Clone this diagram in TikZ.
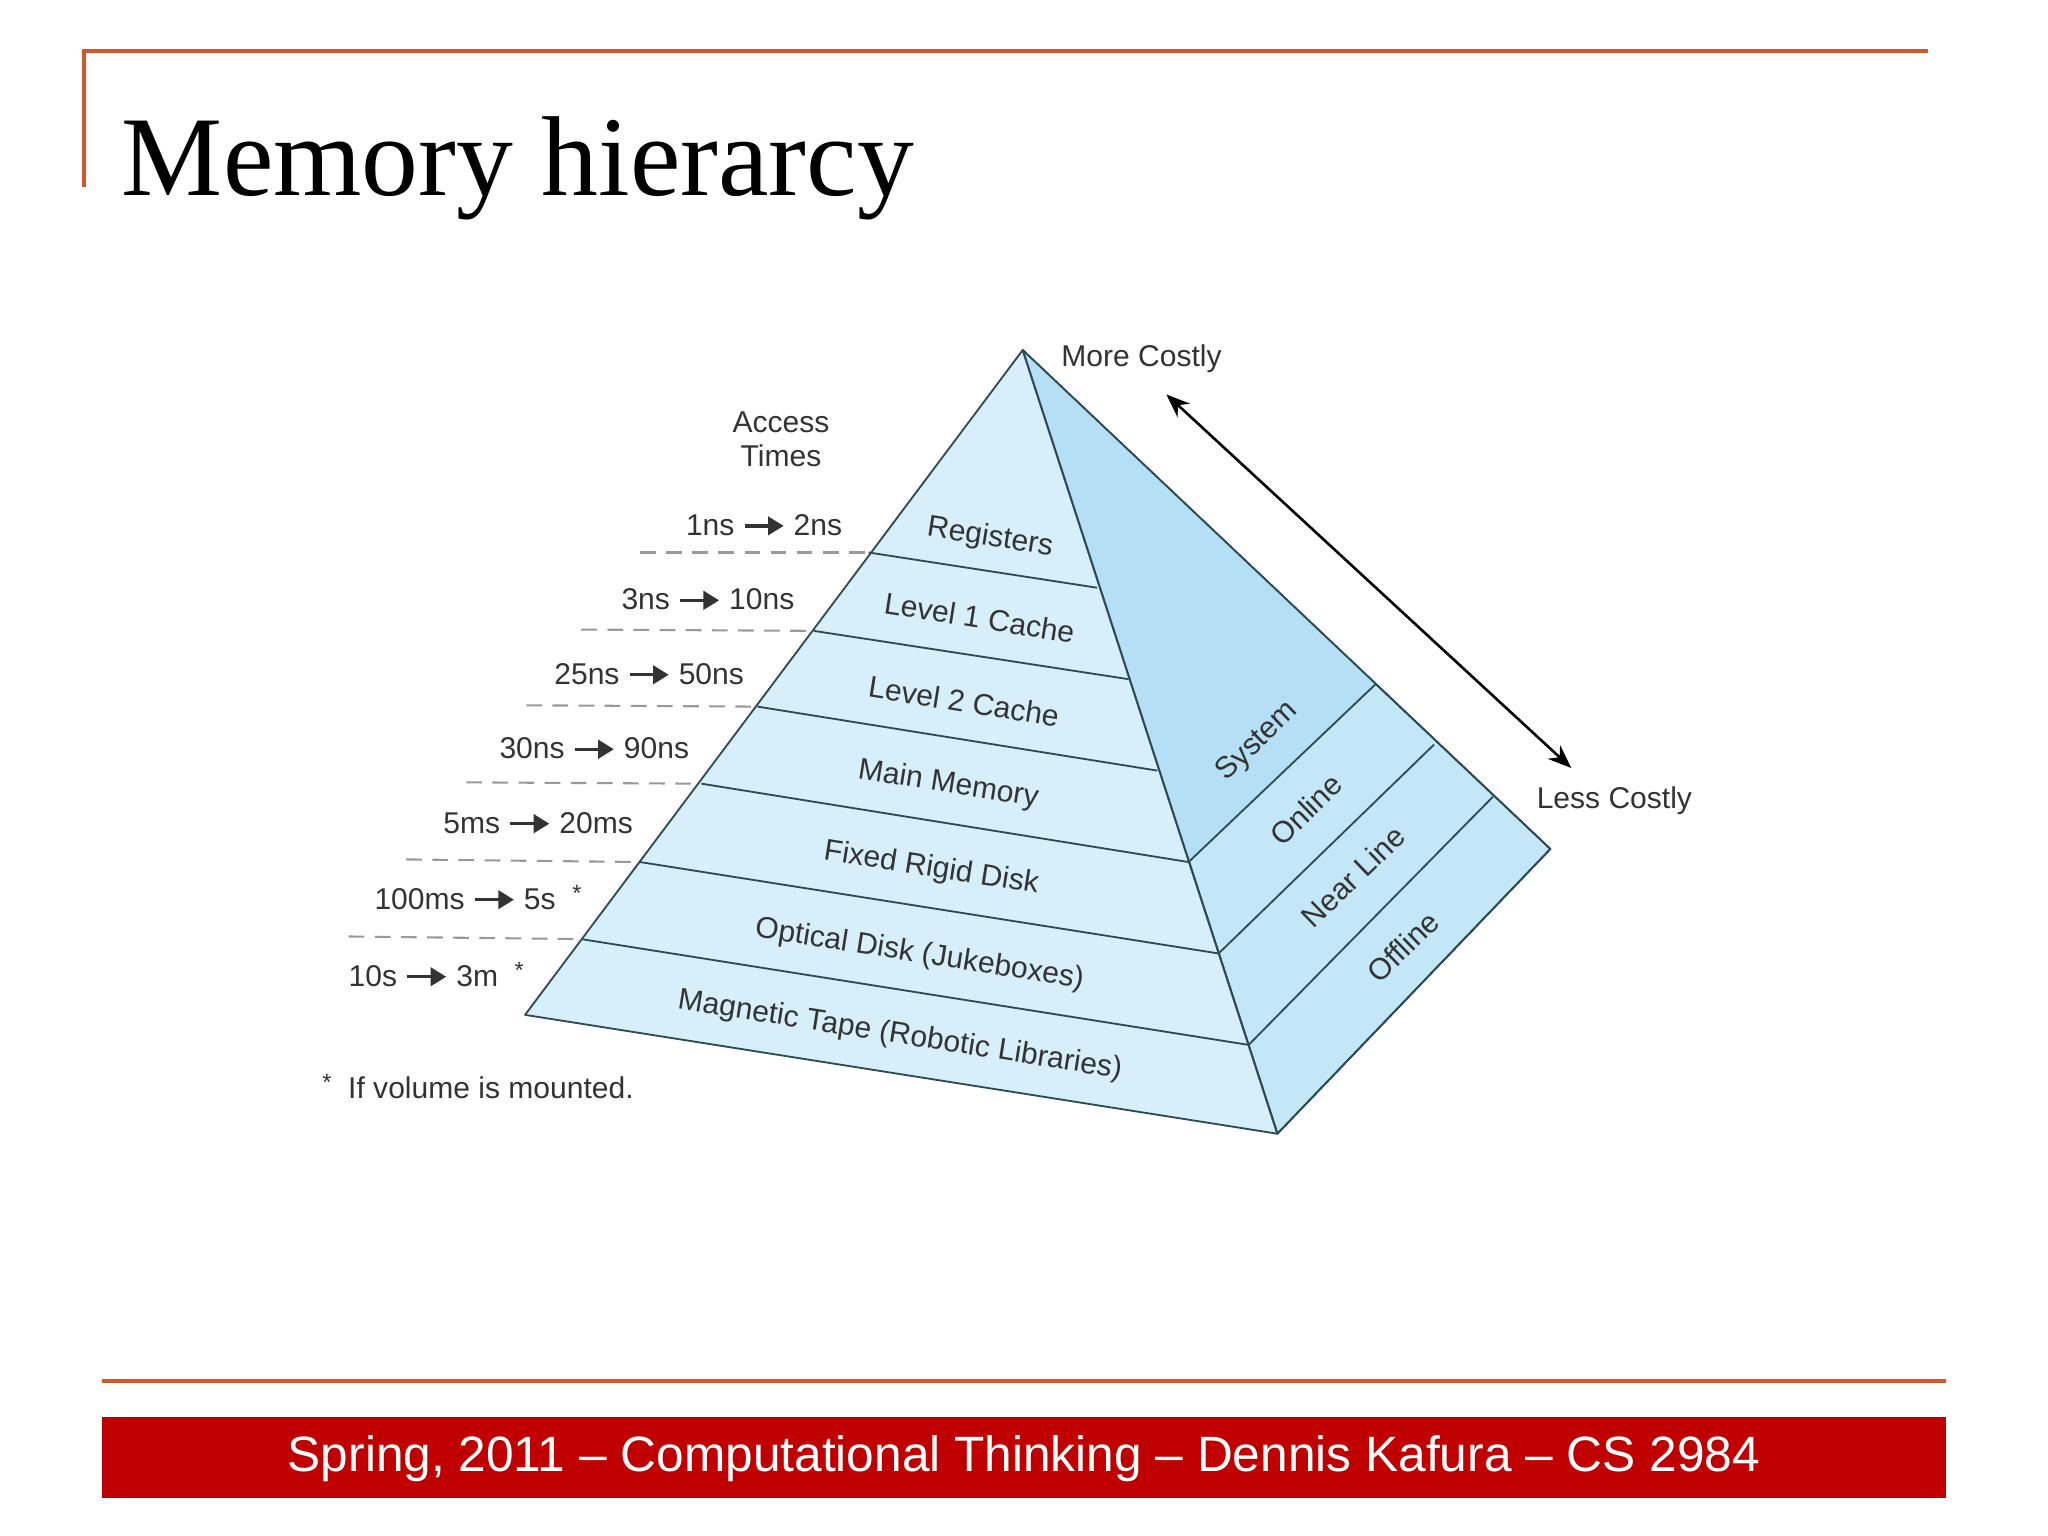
\documentclass[tikz,border=0pt]{standalone}
\usepackage{fontspec}
\setmainfont{Liberation Sans}
\newfontfamily\titlefont{Liberation Serif}
\usetikzlibrary{arrows.meta}
\definecolor{frameor}{HTML}{D2572B}
\definecolor{barred}{HTML}{C00000}
\definecolor{frontc}{HTML}{D6EFFA}
\definecolor{sysc}{HTML}{B5DFF5}
\definecolor{sidec}{HTML}{C4E7F8}
\definecolor{edgec}{HTML}{2E4A55}
\definecolor{txt}{HTML}{333333}
\newcommand{\myarr}{\tikz[baseline=-0.6ex]\draw[line width=1.3pt,-{Triangle[length=6pt,width=7pt]}](0,0)--(15pt,0);}
\tikzset{
  lab/.style={font=\fontsize{11.5}{13}\selectfont, text=txt, inner sep=1pt},
  frontlab/.style={lab, rotate=-9},
  sidelab/.style={lab, rotate=44},
  face/.style={draw=edgec, line width=0.7pt, line join=round},
  dashline/.style={draw=gray!80, dashed, dash pattern=on 6pt off 4pt, line width=0.8pt},
}
\begin{document}
\begin{tikzpicture}[x=0.5pt,y=-0.5pt]
\useasboundingbox (0,0) rectangle (1568,1176);
% frame
\draw[frameor, line width=1.5pt] (64,143) -- (64,39) -- (1476,39);
\node[anchor=base west, font=\titlefont\fontsize{43.5}{48}\selectfont, inner sep=0] (title) at (93,150) {Memory hierarcy};
\draw[frameor, line width=1.5pt] (78,1057) -- (1490,1057);
\fill[barred] (78,1085) rectangle (1490,1147);
\node[text=white, font=\fontsize{19}{22}\selectfont] (foot) at (784,1117) {Spring, 2011 -- Computational Thinking -- Dennis Kafura -- CS 2984};
% pyramid coordinates
\coordinate (A) at (783,268);
\coordinate (L) at (402,777);
\coordinate (F) at (978,868);
\coordinate (R) at (1187,650);
\coordinate (l1) at (665,423); \coordinate (r1) at (840,450);
\coordinate (l2) at (623,483); \coordinate (r2) at (864,520);
\coordinate (l3) at (580,541); \coordinate (r3) at (886,590);
\coordinate (l4) at (537,600); \coordinate (r4) at (910,660);
\coordinate (l5) at (490,660); \coordinate (r5) at (933,730);
\coordinate (l6) at (445,719); \coordinate (r6) at (956,800);
\coordinate (s1) at (1053,524);
\coordinate (s2) at (1098,570);
\coordinate (s3) at (1143,610);
% faces
\path[face, fill=sidec] (A) -- (R) -- (F) -- cycle;
\path[fill=sysc] (A) -- (s1) -- (r4) -- cycle;
\path[face, fill=frontc] (A) -- (L) -- (F) -- cycle;
\draw[face] (A) -- (R) -- (F) -- (A);
\foreach \i in {1,...,6} \draw[face] (l\i) -- (r\i);
\draw[face] (r4) -- (s1);
\draw[face] (r5) -- (s2);
\draw[face] (r6) -- (s3);
% front labels
\node[frontlab] (reg) at (758,412) {Registers};
\node[frontlab] (l1c) at (750,473) {Level 1 Cache};
\node[frontlab] (l2c) at (738,537) {Level 2 Cache};
\node[frontlab] (mm) at (726,601) {Main Memory};
\node[frontlab] (frd) at (713,665) {Fixed Rigid Disk};
\node[frontlab] (od) at (704,731) {Optical Disk (Jukeboxes)};
\node[frontlab] (mt) at (689,793) {Magnetic Tape (Robotic Libraries)};
% side labels
\node[sidelab] (sys) at (963,568) {System};
\node[sidelab] (onl) at (1000,620) {Online};
\node[sidelab] (near) at (1036,671) {Near Line};
\node[sidelab] (off) at (1074,725) {Offline};
% cost arrow
\node[lab] (more) at (874,275) {More Costly};
\node[lab] (less) at (1236,613) {Less Costly};
\coordinate (ca) at (893,302);
\coordinate (cb) at (1203,588);
\draw[line width=1pt, {Stealth[length=9pt,width=7pt]}-{Stealth[length=9pt,width=7pt]}] (ca) -- (cb);
% access times
\node[lab, align=center] (acc) at (598,336) {Access\\Times};
\node[lab] (t1) at (585,402) {1ns \myarr\ 2ns};
\node[lab] (t2) at (542,459) {3ns \myarr\ 10ns};
\node[lab] (t3) at (497,516) {25ns \myarr\ 50ns};
\node[lab] (t4) at (455,573) {30ns \myarr\ 90ns};
\node[lab] (t5) at (412,630) {5ms \myarr\ 20ms};
\node[lab] (t6) at (366,687) {100ms \myarr\ 5s\ \ \raisebox{0.5ex}{\small*}};
\node[lab] (t7) at (334,746) {10s \myarr\ 3m\ \ \raisebox{0.5ex}{\small*}};
\coordinate (d1) at (490,423); \coordinate (d2) at (445,482);
\coordinate (d3) at (403,540); \coordinate (d4) at (357,599);
\coordinate (d5) at (311,658); \coordinate (d6) at (267,717);
\draw[dashline] (d1) -- (l1);
\draw[dashline] (d2) -- (l2);
\draw[dashline] (d3) -- (l3);
\draw[dashline] (d4) -- (l4);
\draw[dashline] (d5) -- (l5);
\draw[dashline] (d6) -- (l6);
\node[lab] (note) at (366,832) {\raisebox{0.5ex}{\small*}\ \ If volume is mounted.};
\end{tikzpicture}
\end{document}
